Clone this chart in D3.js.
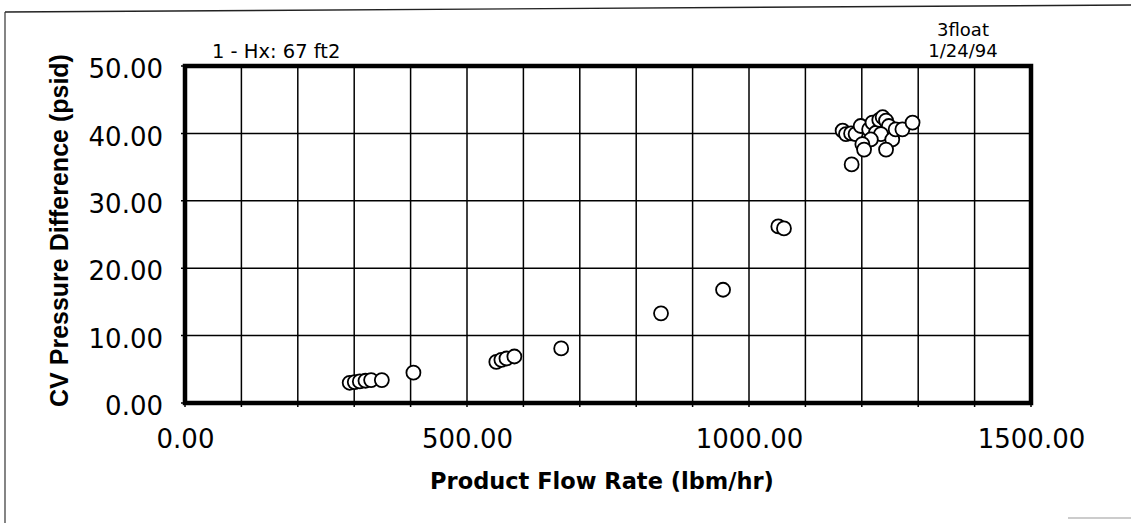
<!DOCTYPE html>
<html>
<head>
<meta charset="utf-8">
<script src="https://cdn.jsdelivr.net/npm/d3@7"></script>
<style>
  html, body { margin: 0; padding: 0; background: #fff; }
  svg { display: block; }
</style>
</head>
<body>
<svg id="chart" width="1131" height="523"></svg>
<script>
// Product flow rate (lbm/hr) and control-valve pressure difference (psid)
const flowRate = [
  292, 301, 310, 320, 330, 349,
  405,
  552, 561, 570, 584,
  667,
  844, 954, 1052, 1062,
  1166, 1172, 1181, 1189, 1198, 1213, 1219, 1225, 1231, 1237,
  1243, 1248, 1234, 1216, 1201, 1204, 1254, 1260, 1272, 1290,
  1243, 1182
];
const pressureDiff = [
  3.0, 3.1, 3.2, 3.3, 3.4, 3.4,
  4.5,
  6.1, 6.4, 6.6, 6.9,
  8.1,
  13.3, 16.8, 26.2, 25.9,
  40.4, 39.9, 40.0, 39.9, 41.1, 40.6, 41.6, 40.1, 42.0, 42.4,
  41.9, 41.1, 39.9, 39.1, 38.4, 37.6, 39.1, 40.6, 40.6, 41.6,
  37.6, 35.4
];

const xTicks = [0, 500, 1000, 1500];
const yTicks = [0, 10, 20, 30, 40, 50];
const xGrid = d3.range(0, 1501, 100);

const xTitle = "Product Flow Rate (lbm/hr)";
const yTitle = "CV Pressure Difference (psid)";
const noteLeft = "1 - Hx: 67 ft2";
const noteRight = ["3float", "1/24/94"];

const svg = d3.select("#chart");
const plot = { left: 185, right: 1031, top: 66, bottom: 403 };

const x = d3.scaleLinear().domain([0, 1500]).range([plot.left, plot.right]);
const y = d3.scaleLinear().domain([0, 50]).range([plot.bottom, plot.top]);

// outer page frame
svg.append("line").attr("x1", 5).attr("y1", 12).attr("x2", 1131).attr("y2", 5)
  .attr("stroke", "#222").attr("stroke-width", 1.4);
svg.append("line").attr("x1", 5).attr("y1", 12).attr("x2", 5).attr("y2", 523)
  .attr("stroke", "#333").attr("stroke-width", 1.2);
svg.append("line").attr("x1", 1068).attr("y1", 518).attr("x2", 1131).attr("y2", 518)
  .attr("stroke", "#bbb").attr("stroke-width", 1.5);

// grid lines
const grid = svg.append("g").attr("stroke", "#000").attr("stroke-width", 1.5);
grid.selectAll("line.vx").data(xGrid).join("line")
  .attr("x1", d => x(d)).attr("x2", d => x(d))
  .attr("y1", plot.top).attr("y2", plot.bottom + 4);
grid.selectAll("line.hy").data(yTicks).join("line")
  .attr("x1", plot.left - 4).attr("x2", plot.right)
  .attr("y1", d => y(d)).attr("y2", d => y(d));

// plot frame
svg.append("rect")
  .attr("x", plot.left).attr("y", plot.top)
  .attr("width", plot.right - plot.left).attr("height", plot.bottom - plot.top)
  .attr("fill", "none").attr("stroke", "#000").attr("stroke-width", 4.5);

// axes (labels only; the frame draws the axis lines)
const xAxis = d3.axisBottom(x).tickValues(xTicks).tickFormat(d3.format(".2f")).tickSize(0).tickPadding(0);
const gx = svg.append("g").attr("transform", `translate(0,${plot.bottom})`).call(xAxis);
gx.select(".domain").remove();
gx.selectAll("text").attr("y", 45).attr("dy", 0)
  .attr("font-family", "DejaVu Sans").attr("font-size", 26).attr("fill", "#000");

const yAxis = d3.axisLeft(y).tickValues(yTicks).tickFormat(d3.format(".2f")).tickSize(0).tickPadding(0);
const gy = svg.append("g").attr("transform", `translate(${plot.left},0)`).call(yAxis);
gy.select(".domain").remove();
gy.selectAll("text").attr("x", -22).attr("dy", "0.45em")
  .attr("font-family", "DejaVu Sans").attr("font-size", 26).attr("fill", "#000");

// points
svg.append("g").selectAll("circle").data(flowRate).join("circle")
  .attr("cx", d => x(d))
  .attr("cy", (d, i) => y(pressureDiff[i]))
  .attr("r", 7)
  .attr("fill", "#fff").attr("stroke", "#000").attr("stroke-width", 1.8);

// axis titles
svg.append("text").text(xTitle)
  .attr("x", (plot.left + plot.right) / 2 - 6).attr("y", 489)
  .attr("text-anchor", "middle")
  .attr("font-family", "DejaVu Sans").attr("font-weight", "bold").attr("font-size", 22.5);

svg.append("text").text(yTitle)
  .attr("transform", `translate(68,${(plot.top + plot.bottom) / 2 - 4}) rotate(-90)`)
  .attr("text-anchor", "middle")
  .attr("font-family", "Liberation Sans").attr("font-weight", "bold").attr("font-size", 25);

// annotations
svg.append("text").text(noteLeft)
  .attr("x", 212).attr("y", 58)
  .attr("font-family", "DejaVu Sans").attr("font-size", 19.5);

svg.append("g").selectAll("text").data(noteRight).join("text")
  .text(d => d)
  .attr("x", 963).attr("y", (d, i) => 36 + i * 21)
  .attr("text-anchor", "middle")
  .attr("font-family", "DejaVu Sans").attr("font-size", 18);
</script>
</body>
</html>
